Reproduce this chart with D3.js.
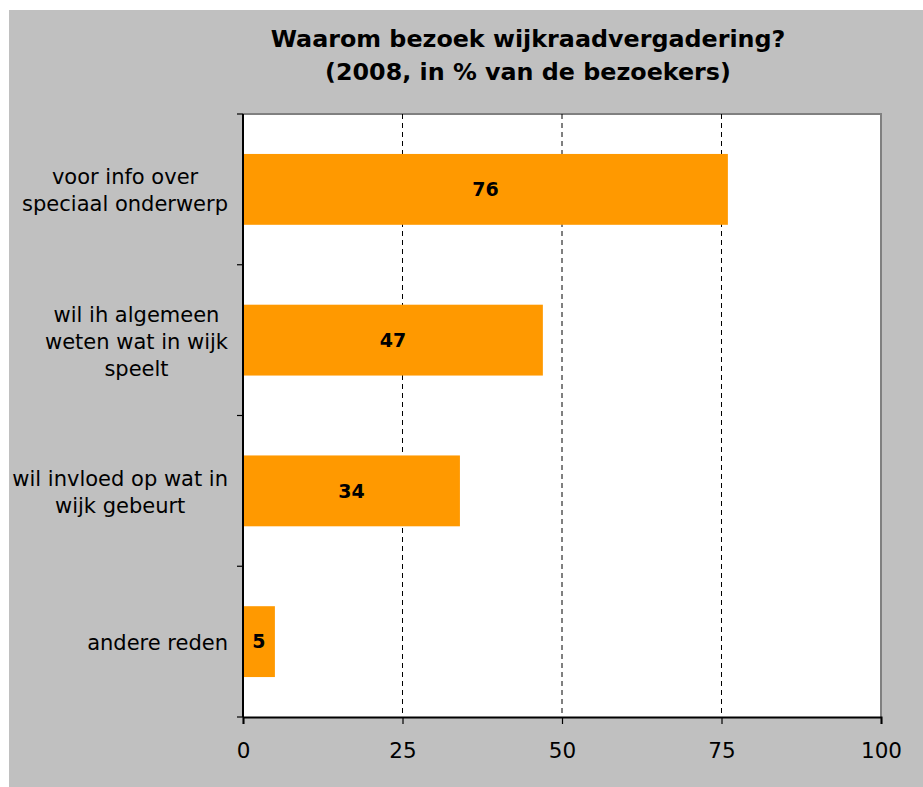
<!DOCTYPE html>
<html>
<head>
<meta charset="utf-8">
<script src="https://cdn.jsdelivr.net/npm/d3@7"></script>
<style>
  body { margin: 0; background: #ffffff; }
  svg { display: block; }
  text { font-family: "DejaVu Sans", Verdana, sans-serif; fill: #000; }
</style>
</head>
<body>
<svg id="chart" width="923" height="787"></svg>
<script>
// chart data
var categories = [
    ["voor info over", "speciaal onderwerp"],
    ["wil ih algemeen", "weten wat in wijk", "speelt"],
    ["wil invloed op wat in", "wijk gebeurt"],
    ["andere reden"]
];
var values = [76, 47, 34, 5];
var xTicks = [0, 25, 50, 75, 100];
var titleLines = ["Waarom bezoek wijkraadvergadering?", "(2008, in % van de bezoekers)"];

var svg = d3.select("#chart");

// grey chart area
svg.append("rect")
    .attr("x", 9).attr("y", 10)
    .attr("width", 914).attr("height", 777)
    .attr("fill", "#c0c0c0");

var plot = {left: 243, right: 881, top: 114, bottom: 717};

var x = d3.scaleLinear()
    .domain([0, 100])
    .range([plot.left, plot.right]);

var y = d3.scaleBand()
    .domain(d3.range(values.length))
    .range([plot.top, plot.bottom])
    .paddingInner(0.53)
    .paddingOuter(0.265);

// plot background + grey border top/right
svg.append("rect")
    .attr("x", plot.left).attr("y", plot.top)
    .attr("width", plot.right - plot.left).attr("height", plot.bottom - plot.top)
    .attr("fill", "#ffffff");
svg.append("path")
    .attr("d", "M" + plot.left + "," + plot.top + "H" + plot.right + "V" + plot.bottom)
    .attr("fill", "none")
    .attr("stroke", "#808080")
    .attr("stroke-width", 2);

// dashed grid
svg.append("g")
    .selectAll("line")
    .data(xTicks.filter(function(d){ return d > 0 && d < 100 }))
    .join("line")
    .attr("x1", function(d){ return x(d) }).attr("x2", function(d){ return x(d) })
    .attr("y1", plot.top).attr("y2", plot.bottom)
    .attr("stroke", "#000")
    .attr("stroke-width", 1)
    .attr("stroke-dasharray", "5,4");

// bars
svg.append("g")
    .selectAll("rect")
    .data(values)
    .join("rect")
    .attr("x", x(0))
    .attr("y", function(d, i){ return y(i) })
    .attr("width", function(d){ return x(d) - x(0) })
    .attr("height", y.bandwidth())
    .attr("fill", "#ff9900");

// value labels
svg.append("g")
    .selectAll("text")
    .data(values)
    .join("text")
    .attr("x", function(d){ return (x(0) + x(d)) / 2 })
    .attr("y", function(d, i){ return y(i) + y.bandwidth() / 2 })
    .attr("dy", "0.36em")
    .attr("text-anchor", "middle")
    .style("font-size", "19px")
    .style("font-weight", "bold")
    .text(function(d){ return d });

// x axis
var xAxis = svg.append("g")
    .attr("transform", "translate(0," + plot.bottom + ")")
    .call(d3.axisBottom(x).tickValues(xTicks).tickSize(7).tickPadding(19));
xAxis.select(".domain").attr("stroke", "#000").attr("stroke-width", 2);
xAxis.selectAll(".tick line").attr("stroke", "#000").attr("stroke-width", 1.2);
xAxis.selectAll(".tick text")
    .style("font-family", "DejaVu Sans, Verdana, sans-serif")
    .style("font-size", "21.5px")
    .attr("fill", "#000");

// y axis line with ticks between categories
var boundaries = d3.range(values.length + 1).map(function(i){ return plot.top + i * (plot.bottom - plot.top) / values.length });
svg.append("line")
    .attr("x1", plot.left).attr("x2", plot.left)
    .attr("y1", plot.top).attr("y2", plot.bottom)
    .attr("stroke", "#000").attr("stroke-width", 2);
svg.append("g")
    .selectAll("line")
    .data(boundaries)
    .join("line")
    .attr("x1", plot.left - 6).attr("x2", plot.left)
    .attr("y1", function(d){ return d }).attr("y2", function(d){ return d })
    .attr("stroke", "#000").attr("stroke-width", 1.2);

// category labels: block right-aligned, lines centred inside block
var lineH = 27;
var labelRight = 228;
categories.forEach(function(lines, i){
    var cy = y(i) + y.bandwidth() / 2;
    var t = svg.append("text")
        .attr("text-anchor", "middle")
        .style("font-size", "21px");
    lines.forEach(function(s, j){
        t.append("tspan")
            .attr("x", 0)
            .attr("y", cy + (j - (lines.length - 1) / 2) * lineH)
            .attr("dy", "0.4em")
            .text(s);
    });
    var w = d3.max(t.selectAll("tspan").nodes(), function(n){ return n.getComputedTextLength() });
    t.selectAll("tspan").attr("x", labelRight - w / 2);
});

// title
svg.append("text")
    .attr("text-anchor", "middle")
    .style("font-size", "23.8px")
    .style("font-weight", "bold")
    .selectAll("tspan")
    .data(titleLines)
    .join("tspan")
    .attr("x", 528)
    .attr("y", function(d, i){ return 47 + i * 33 })
    .text(function(d){ return d });
</script>
</body>
</html>
